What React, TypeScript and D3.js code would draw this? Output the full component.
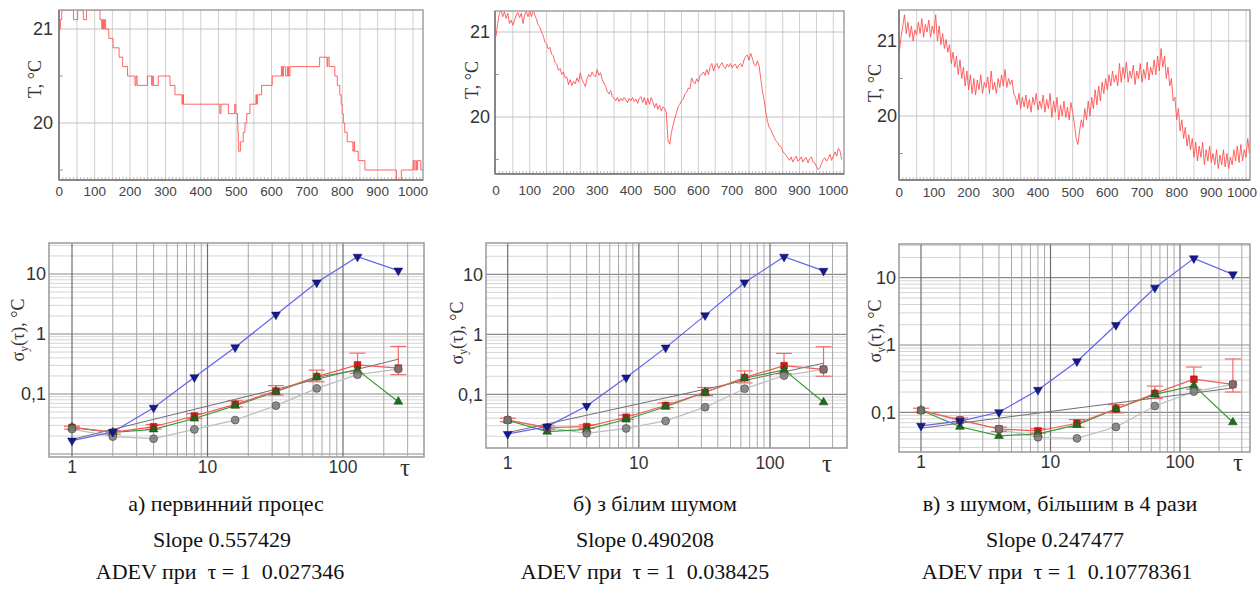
import React from 'react';
import * as d3 from 'd3';

// ---- top row: temperature records, T in °C vs sample number ----
// а) raw process, read as steps [t, T] (0.1 °C quantization)
const procA: [number, number][] = [
  [0, 21.0], [3, 21.1], [7, 21.2], [40, 21.1], [52, 21.2], [68, 21.1], [77, 21.2], [115, 21.1],
  [120, 21.0], [122, 21.1], [125, 21.0], [128, 21.1], [131, 21.0], [140, 20.9], [152, 20.8],
  [169, 20.7], [179, 20.6], [193, 20.5], [214, 20.4], [217, 20.5], [220, 20.4], [249, 20.5],
  [261, 20.4], [264, 20.5], [266, 20.4], [280, 20.5], [313, 20.4], [327, 20.3], [347, 20.2],
  [349, 20.3], [351, 20.2], [454, 20.1], [457, 20.2], [478, 20.1], [496, 20.2], [499, 20.1],
  [504, 20.0], [505, 19.9], [506, 19.8], [507, 19.7], [512, 19.8], [520, 19.9], [525, 20.0],
  [530, 20.1], [539, 20.2], [556, 20.3], [558, 20.2], [560, 20.3], [572, 20.4], [602, 20.5],
  [628, 20.6], [631, 20.5], [634, 20.6], [640, 20.5], [645, 20.6], [648, 20.5], [652, 20.6],
  [736, 20.7], [757, 20.6], [759, 20.7], [763, 20.6], [779, 20.5], [786, 20.4], [793, 20.3],
  [797, 20.2], [800, 20.1], [803, 20.0], [807, 19.9], [814, 19.8], [830, 19.7], [833, 19.8],
  [835, 19.7], [845, 19.6], [864, 19.5], [953, 19.4], [967, 19.5], [1000, 19.6], [1003, 19.5],
  [1006, 19.6], [1010, 19.5], [1013, 19.6], [1022, 19.5], [1028, 19.5],
];

// б) with white noise, one value every 5 samples from t = 0
const procB = [
  20.95, 21.1, 21.22, 21.25, 21.18, 21.24, 21.16, 21.22, 21.1, 21.14,
  21.08, 21.14, 21.2, 21.23, 21.17, 21.22, 21.1, 21.2, 21.24, 21.18,
  21.25, 21.18, 21.26, 21.2, 21.15, 21.08, 21.06, 21.0, 20.96, 20.88,
  20.86, 20.8, 20.82, 20.74, 20.72, 20.64, 20.62, 20.55, 20.57, 20.5,
  20.53, 20.46, 20.47, 20.38, 20.44, 20.37, 20.42, 20.39, 20.46, 20.41,
  20.52, 20.44, 20.4, 20.36, 20.45, 20.5, 20.47, 20.53, 20.49, 20.47,
  20.56, 20.49, 20.52, 20.44, 20.4, 20.36, 20.3, 20.27, 20.31, 20.24,
  20.22, 20.19, 20.23, 20.18, 20.22, 20.19, 20.23, 20.2, 20.17, 20.22,
  20.19, 20.23, 20.18, 20.21, 20.16, 20.22, 20.24, 20.17, 20.23, 20.14,
  20.22, 20.15, 20.23, 20.18, 20.11, 20.16, 20.09, 20.14, 20.07, 20.12,
  20.1, 20.05, 19.72, 19.68, 19.82, 19.9, 19.98, 20.05, 20.12, 20.15,
  20.19, 20.21, 20.27, 20.29, 20.34, 20.33, 20.46, 20.41, 20.39, 20.45,
  20.41, 20.49, 20.5, 20.53, 20.49, 20.56, 20.5, 20.59, 20.63, 20.54,
  20.61, 20.63, 20.57, 20.61, 20.64, 20.59, 20.57, 20.62, 20.59, 20.63,
  20.58, 20.61, 20.62, 20.57, 20.61, 20.63, 20.59, 20.67, 20.71, 20.73,
  20.67, 20.75, 20.69, 20.62, 20.6, 20.66, 20.6, 20.45, 20.3, 20.2,
  20.05, 19.95, 19.88, 19.85, 19.8, 19.76, 19.72, 19.7, 19.66, 19.65,
  19.6, 19.57, 19.55, 19.52, 19.49, 19.53, 19.47, 19.51, 19.54, 19.48,
  19.5, 19.53, 19.47, 19.51, 19.52, 19.46, 19.51, 19.53, 19.47, 19.46,
  19.42, 19.38, 19.4, 19.45, 19.5, 19.52, 19.48, 19.51, 19.56, 19.49,
  19.54, 19.59, 19.54, 19.63, 19.6, 19.5,
];

// в) noise 4x larger, one value every 5 samples
const procC = [
  20.85, 21.05, 21.2, 21.35, 21.1, 21.25, 21.05, 21.2, 21.0, 21.15,
  21.08, 21.25, 21.1, 21.3, 21.05, 21.22, 21.12, 21.28, 21.05, 21.2,
  21.1, 21.35, 21.0, 21.2, 20.95, 21.1, 20.9, 21.02, 20.85, 20.95,
  20.7, 20.85, 20.65, 20.8, 20.55, 20.75, 20.5, 20.65, 20.4, 20.6,
  20.35, 20.55, 20.3, 20.5, 20.28, 20.48, 20.35, 20.55, 20.3, 20.45,
  20.38, 20.52, 20.3, 20.6, 20.35, 20.45, 20.3, 20.5, 20.38, 20.55,
  20.4, 20.62, 20.38, 20.5, 20.42, 20.48, 20.3, 20.25, 20.15, 20.3,
  20.1, 20.25, 20.12, 20.28, 20.1, 20.22, 20.05, 20.25, 20.15, 20.3,
  20.08, 20.2, 20.1, 20.28, 20.05, 20.22, 20.1, 20.3, 19.98, 20.2,
  20.05, 20.25, 19.95, 20.15, 20.0, 20.2, 19.98, 20.12, 19.95, 20.18,
  20.05, 19.9, 19.7, 19.62, 19.8, 19.95, 19.85, 20.1, 19.95, 20.2,
  20.0, 20.25, 20.1, 20.35, 20.15, 20.4, 20.2, 20.45, 20.3, 20.5,
  20.35, 20.55, 20.4, 20.6, 20.45, 20.55, 20.4, 20.7, 20.45, 20.65,
  20.5, 20.72, 20.45, 20.6, 20.5, 20.68, 20.42, 20.6, 20.5, 20.7,
  20.45, 20.62, 20.5, 20.72, 20.48, 20.65, 20.55, 20.75, 20.55, 20.8,
  20.6, 20.9, 20.65, 20.8, 20.5, 20.65, 20.4, 20.5, 20.2, 20.25,
  19.95, 20.1, 19.8, 19.95, 19.7, 19.85, 19.6, 19.75, 19.55, 19.7,
  19.45, 19.65, 19.4, 19.6, 19.45, 19.65, 19.35, 19.55, 19.4, 19.6,
  19.38, 19.5, 19.35, 19.55, 19.3, 19.48, 19.35, 19.55, 19.32, 19.5,
  19.3, 19.45, 19.35, 19.55, 19.4, 19.6, 19.38, 19.62, 19.4, 19.55,
  19.45, 19.7, 19.5, 19.75, 19.55, 19.6,
];

const timeTicks = d3.range(0, 1001, 100);
const tempTicks = [20, 21];

// ---- bottom row: Allan deviation vs tau ----
const tau = [1, 2, 4, 8, 16, 32, 64, 128, 256];
const tauTicks = [1, 10, 100];
const sigmaTicks = [0.1, 1, 10];
const sigmaTickLabels = ['0,1', '1', '10'];

const blueA = [0.0167, 0.0233, 0.059, 0.19, 0.6, 2.1, 7.2, 19.4, 11.4];
const redA = [0.0277, 0.0229, 0.0285, 0.043, 0.067, 0.112, 0.195, 0.305, 0.27];
const greenA = [0.0277, 0.023, 0.0257, 0.039, 0.064, 0.109, 0.19, 0.25, 0.0744];
const grayA = [0.026, 0.0195, 0.018, 0.0257, 0.0368, 0.064, 0.124, 0.21, 0.26];
const errLoA = [0.026, 0.0215, 0.026, 0.039, 0.061, 0.096, 0.16, 0.22, 0.21];
const errHiA = [0.029, 0.0245, 0.031, 0.047, 0.077, 0.138, 0.25, 0.48, 0.62];
const fitA = [0.0175, 0.38];

const blueB = [0.0218, 0.029, 0.064, 0.19, 0.6, 2.07, 7.3, 19.6, 11.4];
const redB = [0.0373, 0.0278, 0.0289, 0.0414, 0.065, 0.108, 0.19, 0.3, 0.26];
const greenB = [0.037, 0.0239, 0.026, 0.038, 0.062, 0.108, 0.185, 0.255, 0.0736];
const grayB = [0.037, 0.028, 0.0224, 0.027, 0.036, 0.061, 0.124, 0.205, 0.26];
const errLoB = [0.035, 0.026, 0.027, 0.038, 0.06, 0.095, 0.155, 0.22, 0.2];
const errHiB = [0.04, 0.03, 0.031, 0.045, 0.072, 0.13, 0.245, 0.48, 0.62];
const fitB = [0.023, 0.33];

const blueC = [0.063, 0.074, 0.1, 0.215, 0.57, 1.98, 7.1, 19.4, 11.2];
const redC = [0.107, 0.077, 0.0565, 0.0528, 0.0687, 0.112, 0.191, 0.31, 0.26];
const greenC = [0.107, 0.061, 0.0446, 0.0477, 0.065, 0.112, 0.185, 0.249, 0.071];
const grayC = [0.107, 0.075, 0.0565, 0.0426, 0.041, 0.0605, 0.124, 0.203, 0.26];
const errLoC = [0.1, 0.072, 0.052, 0.049, 0.06, 0.098, 0.16, 0.22, 0.2];
const errHiC = [0.115, 0.082, 0.06, 0.057, 0.078, 0.13, 0.245, 0.47, 0.62];
const fitC = [0.058, 0.23];

const captions = ['а) первинний процес', 'б) з білим шумом', 'в) з шумом, більшим в 4 рази'];
const slopes = ['0.557429', '0.490208', '0.247477'];
const adevAt1 = ['0.027346', '0.038425', '0.10778361'];

const SANS = "'Liberation Sans', Arial, sans-serif";
const SERIF = "'Liberation Serif', 'Times New Roman', serif";

type Frame = { x0: number; x1: number; y0: number; y1: number };

function TopPanel(props: {
  id: string; frame: Frame; xr: [number, number]; yr: [number, number];
  pts: [number, number][]; step?: boolean; tickX: number; titleX: number; titleY: number; labelY: number;
}) {
  const { id, frame, xr, yr, pts, step, tickX, titleX, titleY, labelY } = props;
  const x = d3.scaleLinear().domain([0, 1000]).range(xr);
  const y = d3.scaleLinear().domain([20, 21]).range(yr);
  const tMax = x.invert(frame.x1);
  const line = d3.line<[number, number]>()
    .x(d => x(d[0])).y(d => y(d[1]))
    .curve(step ? d3.curveStepAfter : d3.curveLinear);
  const vgrid = d3.range(50, tMax, 50);
  const minor = d3.range(10, tMax, 10);
  return (
    <g>
      <defs>
        <clipPath id={id}>
          <rect x={frame.x0} y={frame.y0} width={frame.x1 - frame.x0} height={frame.y1 - frame.y0} />
        </clipPath>
      </defs>
      {vgrid.map(t => (
        <line key={t} x1={x(t)} x2={x(t)} y1={frame.y0} y2={frame.y1} stroke="#cfcfcf" strokeWidth={1} />
      ))}
      {tempTicks.map(v => (
        <line key={v} x1={frame.x0} x2={frame.x1} y1={y(v)} y2={y(v)} stroke="#c4c4c4" strokeWidth={1} />
      ))}
      {[19.5, 20.5].map(v => (
        <line key={v} x1={frame.x0} x2={frame.x0 + 4} y1={y(v)} y2={y(v)} stroke="#999" />
      ))}
      {minor.map(t => (
        <line key={t} x1={x(t)} x2={x(t)} y1={frame.y1 - 3} y2={frame.y1} stroke="#aaa" strokeWidth={0.8} />
      ))}
      <path d={line(pts) || ''} fill="none" stroke="#ff4a4a" strokeWidth={1} strokeOpacity={0.85} clipPath={`url(#${id})`} />
      <rect x={frame.x0} y={frame.y0} width={frame.x1 - frame.x0} height={frame.y1 - frame.y0}
        fill="none" stroke="#a0a0a0" strokeWidth={1.5} />
      <line x1={frame.x0} x2={frame.x0} y1={frame.y0} y2={frame.y1} stroke="#777" strokeWidth={1.5} />
      <line x1={frame.x0} x2={frame.x1} y1={frame.y1} y2={frame.y1} stroke="#777" strokeWidth={1.5} />
      {tempTicks.map(v => (
        <text key={v} x={tickX} y={y(v)} dy="0.36em" textAnchor="end" fontFamily={SANS} fontSize={18} fill="#333">{v}</text>
      ))}
      {timeTicks.map(t => {
        const half = String(t).length * 3.75;
        return (
          <text key={t} x={Math.min(x(t), 1257 - half)} y={labelY} dy="0.36em" textAnchor="middle"
            fontFamily={SANS} fontSize={13.5} fill="#444">{t}</text>
        );
      })}
      <text transform={`translate(${titleX},${titleY}) rotate(-90)`} textAnchor="middle" dy="0.36em"
        fontFamily={SERIF} fontSize={18} fill="#333">T, °C</text>
    </g>
  );
}

function AdevPanel(props: {
  frame: Frame; xr: [number, number]; yr: [number, number];
  blue: number[]; red: number[]; green: number[]; gray: number[];
  lo: number[]; hi: number[]; fit: number[];
  tickX: number; labelY: number; tauX: number; titleX: number; titleY: number;
}) {
  const { frame, xr, yr, blue, red, green, gray, lo, hi, fit, tickX, labelY, tauX, titleX, titleY } = props;
  const x = d3.scaleLog().domain([1, 100]).range(xr);
  const y = d3.scaleLog().domain([0.1, 10]).range(yr);
  const inX = (v: number) => x(v) > frame.x0 + 1 && x(v) < frame.x1 - 1;
  const inY = (v: number) => y(v) > frame.y0 + 1 && y(v) < frame.y1 - 1;
  const xMinor: number[] = [];
  const yMinor: number[] = [];
  [1, 10, 100].forEach(d => d3.range(2, 10).forEach(k => { if (inX(k * d)) xMinor.push(k * d); }));
  [0.001, 0.01, 0.1, 1, 10].forEach(d => d3.range(2, 10).forEach(k => { if (inY(k * d)) yMinor.push(k * d); }));
  const yMajor = [0.01, 0.1, 1, 10].filter(inY);
  const ln = (vals: number[]) => d3.line<number>().x((_, i) => x(tau[i])).y(v => y(v))(vals) || '';
  const fitLine = d3.line<number>().x((_, i) => x(i === 0 ? tau[0] : tau[tau.length - 1])).y(v => y(v))(fit) || '';
  const tri = d3.symbol(d3.symbolTriangle, 34)() || '';
  const sq = d3.symbol(d3.symbolSquare, 44)() || '';
  const circ = d3.symbol(d3.symbolCircle, 48)() || '';
  const cap = 8;
  return (
    <g>
      {yMinor.map(v => (
        <line key={'ym' + v} x1={frame.x0} x2={frame.x1} y1={y(v)} y2={y(v)} stroke="#d4d4d4" strokeWidth={1} />
      ))}
      {yMajor.map(v => (
        <line key={'yM' + v} x1={frame.x0} x2={frame.x1} y1={y(v)} y2={y(v)} stroke="#8a8a8a" strokeWidth={1.2} />
      ))}
      {xMinor.map(v => (
        <line key={'xm' + v} x1={x(v)} x2={x(v)} y1={frame.y0} y2={frame.y1} stroke="#a8a8a8" strokeWidth={1} />
      ))}
      {tauTicks.map(v => (
        <line key={'xM' + v} x1={x(v)} x2={x(v)} y1={frame.y0} y2={frame.y1} stroke="#6e6e6e" strokeWidth={1.2} />
      ))}
      <rect x={frame.x0} y={frame.y0} width={frame.x1 - frame.x0} height={frame.y1 - frame.y0}
        fill="none" stroke="#999" strokeWidth={1.5} />

      {/* error bars */}
      {tau.map((t, i) => (
        <g key={'e' + t} stroke="#f06a6a" strokeWidth={1.2}>
          <line x1={x(t)} x2={x(t)} y1={y(lo[i])} y2={y(hi[i])} />
          <line x1={x(t) - cap} x2={x(t) + cap} y1={y(lo[i])} y2={y(lo[i])} />
          <line x1={x(t) - cap} x2={x(t) + cap} y1={y(hi[i])} y2={y(hi[i])} />
        </g>
      ))}
      <path d={ln(gray)} fill="none" stroke="#bdbdbd" strokeWidth={1.2} />
      <path d={fitLine} fill="none" stroke="#707070" strokeWidth={1} />
      <path d={ln(green)} fill="none" stroke="#3c9a3c" strokeWidth={1.2} />
      <path d={ln(red)} fill="none" stroke="#f25a5a" strokeWidth={1.2} />
      <path d={ln(blue)} fill="none" stroke="#6363ec" strokeWidth={1.2} />

      {red.map((v, i) => (
        <path key={'r' + i} d={sq} transform={`translate(${x(tau[i])},${y(v)})`} fill="#e01818" stroke="#a01010" strokeWidth={0.6} />
      ))}
      {green.map((v, i) => (
        <path key={'g' + i} d={tri} transform={`translate(${x(tau[i])},${y(v)})`} fill="#1f6a1f" stroke="#144414" strokeWidth={0.5} />
      ))}
      {gray.map((v, i) => (
        <path key={'k' + i} d={circ} transform={`translate(${x(tau[i])},${y(v)})`} fill="#7a7a7a" fillOpacity={0.85} stroke="#555" strokeWidth={0.8} />
      ))}
      {blue.map((v, i) => (
        <path key={'b' + i} d={tri} transform={`translate(${x(tau[i])},${y(v)}) rotate(180)`} fill="#141a8c" stroke="#0b0f5c" strokeWidth={0.5} />
      ))}

      {sigmaTicks.map((v, i) => (
        <text key={v} x={tickX} y={y(v)} dy="0.36em" textAnchor="end" fontFamily={SANS} fontSize={18} fill="#333">{sigmaTickLabels[i]}</text>
      ))}
      {tauTicks.map(v => (
        <text key={v} x={x(v)} y={labelY} dy="0.36em" textAnchor="middle" fontFamily={SANS} fontSize={17.5} fill="#333">{v}</text>
      ))}
      <text x={tauX} y={labelY} dy="0.36em" textAnchor="middle" fontFamily={SERIF} fontSize={25} fill="#333">τ</text>
      <text transform={`translate(${titleX},${titleY}) rotate(-90)`} textAnchor="middle" dy="0.36em"
        fontFamily={SERIF} fontSize={18} fill="#333">
        σ<tspan fontSize={11.5} dy="4">y</tspan><tspan dy="-4">(τ), °C</tspan>
      </text>
    </g>
  );
}

const captionX = [[226, 222, 220], [655, 645, 645], [1060, 1055, 1057]];

export default function App() {
  const stepB: [number, number][] = procB.map((v, i) => [i * 5, v]);
  const stepC: [number, number][] = procC.map((v, i) => [i * 5, v]);
  return (
    <svg width={1259} height={590} style={{ position: 'absolute', left: 0, top: 0, background: '#fff' }}>
      <TopPanel id="clipA" frame={{ x0: 59, x1: 423, y0: 10, y1: 180 }} xr={[59.3, 413]} yr={[123, 29]}
        pts={procA} step tickX={53} titleX={35} titleY={79} labelY={191} />
      <TopPanel id="clipB" frame={{ x0: 495, x1: 844, y0: 11, y1: 174 }} xr={[496, 833.3]} yr={[117, 32]}
        pts={stepB} tickX={490} titleX={472} titleY={80} labelY={190} />
      <TopPanel id="clipC" frame={{ x0: 899, x1: 1250, y0: 10, y1: 180 }} xr={[899.3, 1246]} yr={[116, 41]}
        pts={stepC} tickX={897} titleX={875} titleY={83} labelY={192} />

      <AdevPanel frame={{ x0: 49, x1: 424, y0: 243, y1: 457 }} xr={[72, 343]} yr={[394, 274]}
        blue={blueA} red={redA} green={greenA} gray={grayA} lo={errLoA} hi={errHiA} fit={fitA}
        tickX={46} labelY={467} tauX={405} titleX={18} titleY={330} />
      <AdevPanel frame={{ x0: 486, x1: 847, y0: 243, y1: 448 }} xr={[507.7, 770]} yr={[394.3, 274.3]}
        blue={blueB} red={redB} green={greenB} gray={grayB} lo={errLoB} hi={errHiB} fit={fitB}
        tickX={483} labelY={463} tauX={827} titleX={457} titleY={333} />
      <AdevPanel frame={{ x0: 899, x1: 1250, y0: 244, y1: 452 }} xr={[921, 1180]} yr={[412.3, 277.7]}
        blue={blueC} red={redC} green={greenC} gray={grayC} lo={errLoC} hi={errHiC} fit={fitC}
        tickX={896} labelY={462} tauX={1238} titleX={875} titleY={331} />

      {captions.map((c, i) => (
        <g key={c} fontFamily={SERIF} fontSize={22} fill="#111" textAnchor="middle">
          <text x={captionX[i][0]} y={511}>{c}</text>
          <text x={captionX[i][1]} y={547}>Slope {slopes[i]}</text>
          <text x={captionX[i][2]} y={579} style={{ whiteSpace: 'pre' }}>{`ADEV при  τ = 1  ${adevAt1[i]}`}</text>
        </g>
      ))}
    </svg>
  );
}
